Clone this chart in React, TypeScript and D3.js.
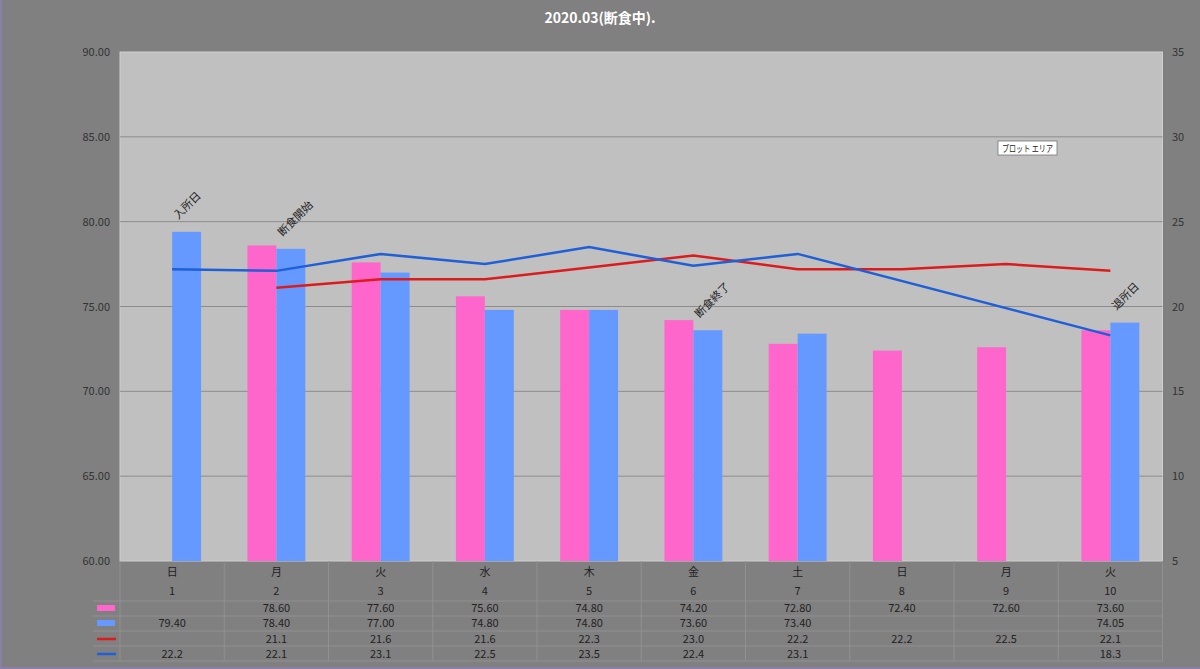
import { useLayoutEffect } from "react";
import { scaleBand, scaleLinear, line, range } from "d3";

// categories
const days = ["日", "月", "火", "水", "木", "金", "土", "日", "月", "火"];
const dates = ["1", "2", "3", "4", "5", "6", "7", "8", "9", "10"];
// bar series (left axis)
const pinkBars: (number | null)[] = [null, 78.6, 77.6, 75.6, 74.8, 74.2, 72.8, 72.4, 72.6, 73.6];
const blueBars: (number | null)[] = [79.4, 78.4, 77.0, 74.8, 74.8, 73.6, 73.4, null, null, 74.05];
// line series (right axis)
const redLine: (number | null)[] = [null, 21.1, 21.6, 21.6, 22.3, 23.0, 22.2, 22.2, 22.5, 22.1];
const blueLine: (number | null)[] = [22.2, 22.1, 23.1, 22.5, 23.5, 22.4, 23.1, null, null, 18.3];
// tick values
const leftTicks = [60, 65, 70, 75, 80, 85, 90];
const rightTicks = [5, 10, 15, 20, 25, 30, 35];
// rotated notes above blue bars
const notes = [
  { i: 0, text: "入所日" },
  { i: 1, text: "断食開始" },
  { i: 5, text: "断食終了" },
  { i: 9, text: "退所日" },
];

const W = 1200;
const H = 669;
const plot = { left: 120, right: 1162.5, top: 52, bottom: 561 };
const PINK = "#ff66cc";
const BLUE = "#6699ff";
const RED = "#dc1c1c";
const BLUE_LINE = "#1f5fd8";
const FONT = "'Noto Sans CJK JP', 'Noto Sans', sans-serif";

export default function App() {
  useLayoutEffect(() => {
    document.body.style.margin = "0";
  }, []);

  const x = scaleBand<string>().domain(dates).range([plot.left, plot.right]).padding(0);
  const x1 = scaleBand<string>()
    .domain(["pink", "blue"])
    .range([0, x.bandwidth()])
    .paddingInner(0)
    .paddingOuter(0.8);
  const yL = scaleLinear().domain([60, 90]).range([plot.bottom, plot.top]);
  const yR = scaleLinear().domain([5, 35]).range([plot.bottom, plot.top]);
  const cx = (i: number) => (x(dates[i]) ?? 0) + x.bandwidth() / 2;

  const lineGen = line<[number, number]>()
    .x((d) => cx(d[0]))
    .y((d) => yR(d[1]));
  const pts = (arr: (number | null)[]) =>
    arr.map((v, i) => [i, v] as [number, number | null]).filter((d) => d[1] != null) as [number, number][];

  const rowY = { day: 572, date: 591, pink: 608, blue: 623, red: 639, bline: 654 };
  const hLines = [601, 616, 631, 646, 661];
  const fmt2 = (v: number | null) => (v == null ? "" : v.toFixed(2));
  const fmt1 = (v: number | null) => (v == null ? "" : v.toFixed(1));

  const tableRows = [
    { y: rowY.pink, vals: pinkBars.map(fmt2) },
    { y: rowY.blue, vals: blueBars.map(fmt2) },
    { y: rowY.red, vals: redLine.map(fmt1) },
    { y: rowY.bline, vals: blueLine.map(fmt1) },
  ];

  return (
    <svg width={W} height={H} style={{ display: "block" }} fontFamily={FONT}>
      <rect width={W} height={H} fill="#808080" />
      <line x1={1} x2={1} y1={0} y2={H} stroke="#8a7fa6" strokeWidth={2} />
      <line x1={0} x2={W} y1={H - 1} y2={H - 1} stroke="#8a7fa6" strokeWidth={2} />

      <text x={600} y={23} textAnchor="middle" fill="#ffffff" fontSize={14} fontWeight="bold">
        2020.03(断食中).
      </text>

      {/* plot area */}
      <rect
        x={plot.left}
        y={plot.top}
        width={plot.right - plot.left}
        height={plot.bottom - plot.top}
        fill="#c0c0c0"
        stroke="#cfcfcf"
        strokeWidth={1}
      />
      {leftTicks.slice(1, -1).map((t) => (
        <line key={t} x1={plot.left} x2={plot.right} y1={yL(t)} y2={yL(t)} stroke="#8c8c8c" strokeWidth={1} />
      ))}

      {/* axis labels */}
      {leftTicks.map((t) => (
        <text key={t} x={110} y={yL(t) + 4} textAnchor="end" fontSize={11} fill="#333">
          {t.toFixed(2)}
        </text>
      ))}
      {rightTicks.map((t) => (
        <text key={t} x={1172} y={yR(t) + 4} textAnchor="start" fontSize={11} fill="#333">
          {t}
        </text>
      ))}

      {/* bars */}
      {dates.map((d, i) => (
        <g key={d} transform={`translate(${x(d)},0)`}>
          {pinkBars[i] != null && (
            <rect
              x={x1("pink")}
              y={yL(pinkBars[i] as number)}
              width={x1.bandwidth()}
              height={plot.bottom - yL(pinkBars[i] as number)}
              fill={PINK}
            />
          )}
          {blueBars[i] != null && (
            <rect
              x={x1("blue")}
              y={yL(blueBars[i] as number)}
              width={x1.bandwidth()}
              height={plot.bottom - yL(blueBars[i] as number)}
              fill={BLUE}
            />
          )}
        </g>
      ))}

      {/* lines */}
      <path d={lineGen(pts(redLine)) ?? ""} fill="none" stroke={RED} strokeWidth={2.5} />
      <path d={lineGen(pts(blueLine)) ?? ""} fill="none" stroke={BLUE_LINE} strokeWidth={2.5} />

      {/* notes */}
      {notes.map((n) => {
        const bx = (x(dates[n.i]) ?? 0) + (x1("blue") ?? 0) + 6;
        const by = yL(blueBars[n.i] as number) - 12;
        return (
          <text key={n.text} transform={`translate(${bx},${by}) rotate(-45)`} fontSize={11} fill="#222">
            {n.text}
          </text>
        );
      })}

      {/* plot area tooltip */}
      <g transform="translate(998,141)">
        <rect width={59} height={14} fill="#ffffff" stroke="#777" strokeWidth={0.8} />
        <text x={4} y={10.5} fontSize={9} fill="#222" textLength={51} lengthAdjust="spacingAndGlyphs">
          プロット エリア
        </text>
      </g>

      {/* data table */}
      <g stroke="#909090" strokeWidth={1}>
        {range(dates.length + 1).map((k) => {
          const vx = plot.left + k * x.bandwidth();
          return <line key={k} x1={vx} x2={vx} y1={plot.bottom} y2={661} />;
        })}
        {hLines.map((hy) => (
          <line key={hy} x1={93} x2={plot.right} y1={hy} y2={hy} />
        ))}
      </g>
      <g fontSize={11} fill="#222" textAnchor="middle">
        {days.map((d, i) => (
          <text key={"d" + i} x={cx(i)} y={rowY.day + 4}>
            {d}
          </text>
        ))}
        {dates.map((d, i) => (
          <text key={"n" + i} x={cx(i)} y={rowY.date + 4}>
            {d}
          </text>
        ))}
        {tableRows.map((r, ri) =>
          r.vals.map((v, i) => (
            <text key={ri + "-" + i} x={cx(i)} y={r.y + 4}>
              {v}
            </text>
          ))
        )}
      </g>

      {/* legend keys */}
      <rect x={97} y={605} width={18} height={6} fill={PINK} />
      <rect x={97} y={620} width={18} height={6} fill={BLUE} />
      <line x1={97} x2={116} y1={639} y2={639} stroke={RED} strokeWidth={2.5} />
      <line x1={97} x2={116} y1={654} y2={654} stroke={BLUE_LINE} strokeWidth={2.5} />
    </svg>
  );
}
